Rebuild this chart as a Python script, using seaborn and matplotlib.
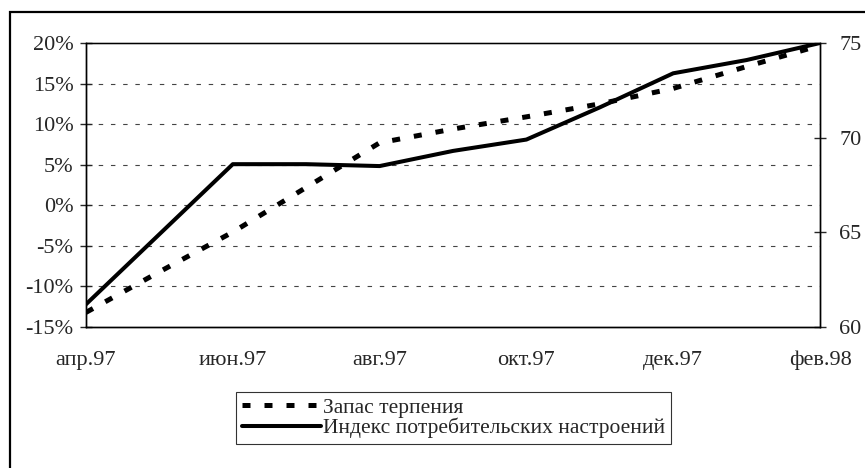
import matplotlib
matplotlib.use("Agg")
import matplotlib.pyplot as plt
import matplotlib.ticker as mticker
from matplotlib.patches import Rectangle
from matplotlib.lines import Line2D
import seaborn as sns
import pandas as pd

# ---- data ----
months = ["апр.97", "май.97", "июн.97", "июл.97", "авг.97", "сен.97",
          "окт.97", "ноя.97", "дек.97", "янв.98", "фев.98"]
tick_labels = ["апр.97", "июн.97", "авг.97", "окт.97", "дек.97", "фев.98"]
patience = [-13.2, -8.2, -3.3, 2.2, 7.7, 9.4, 10.9, 12.5, 14.4, 17.1, 19.7]   # % (left axis)
sentiment = [61.2, 64.9, 68.6, 68.6, 68.5, 69.3, 69.9, 71.6, 73.4, 74.1, 75.0]  # index (right axis)
name_patience = "Запас терпения"
name_sentiment = "Индекс потребительских настроений"

df = pd.DataFrame({"idx": range(len(months)), "month": months,
                   "patience": [v / 100 for v in patience], "sentiment": sentiment})

sns.set_style("white")
plt.rcParams["font.family"] = ["Liberation Serif", "DejaVu Serif"]

W, H = 865, 468
fig = plt.figure(figsize=(W / 100, H / 100), dpi=100)
left, right, top, bottom = 86, 820, 43, 327
ax = fig.add_axes([left / W, 1 - bottom / H, (right - left) / W, (bottom - top) / H])
ax2 = ax.twinx()

sns.lineplot(data=df, x="idx", y="patience", ax=ax, color="black", lw=3.6,
             dashes=False, legend=False)
ax.lines[0].set_dashes((1.6, 2.8))
sns.lineplot(data=df, x="idx", y="sentiment", ax=ax2, color="black", lw=2.9,
             legend=False)

ax.set_xlim(0, len(months) - 1)
ax.set_ylim(-0.15, 0.20)
ax.set_yticks([-0.15, -0.10, -0.05, 0, 0.05, 0.10, 0.15, 0.20])
ax.yaxis.set_major_formatter(mticker.FuncFormatter(lambda v, p: f"{round(v*100):d}%"))
tick_pos = [months.index(t) for t in tick_labels]
ax.set_xticks(tick_pos)
ax.set_xticklabels(tick_labels)
ax2.set_ylim(60, 75)
ax2.set_yticks([60, 65, 70, 75])

for y in [-0.10, -0.05, 0, 0.05, 0.10, 0.15]:
    ax.axhline(y, color="#444444", lw=0.8, dashes=(4, 7), zorder=0)

ax.set_xlabel("")
ax.set_ylabel("")
ax2.set_ylabel("")
ax.tick_params(axis="y", direction="inout", length=8, width=1, labelsize=16, pad=5)
ax.tick_params(axis="x", direction="inout", length=8, width=1, labelsize=16, pad=13)
ax2.tick_params(axis="y", direction="inout", length=8, width=1, labelsize=16, pad=10)
for a in (ax, ax2):
    for s in a.spines.values():
        s.set_color("black")
        s.set_linewidth(1)
ax.spines["top"].set_color("#333333")
ax.spines["top"].set_linewidth(0.9)

handles = [Line2D([], [], color="black", lw=3.6, dashes=(1.6, 2.8)),
           Line2D([], [], color="black", lw=2.9)]
leg = fig.legend(handles, [name_patience, name_sentiment], loc="center",
                 bbox_to_anchor=(453.5 / W, 1 - 418 / H), fontsize=15.5,
                 frameon=True, fancybox=False, edgecolor="black",
                 handlelength=3.7, handletextpad=0.1, borderpad=0.25,
                 labelspacing=0.0, borderaxespad=0)
leg.get_frame().set_linewidth(0.8)

fig.add_artist(Rectangle((10 / W, -0.1), 2, 1.1 - 12 / H, fill=False,
                         lw=1.6, edgecolor="black", transform=fig.transFigure))

fig.savefig("out.png", dpi=100, facecolor="white")
